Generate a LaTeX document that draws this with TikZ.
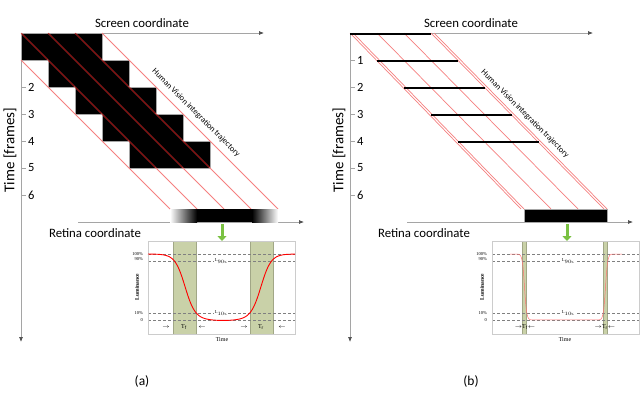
\documentclass[tikz,border=0pt]{standalone}
\usepackage{fontspec}
\setmainfont{Carlito}
\newfontfamily\gfont{Liberation Serif}
\usetikzlibrary{arrows.meta}
\definecolor{axisgray}{RGB}{165,165,165}
\definecolor{bandgreen}{RGB}{201,209,168}
\definecolor{arrowgreen}{RGB}{122,193,66}
\definecolor{trajpink}{RGB}{246,128,128}
\definecolor{trajdark}{RGB}{140,10,10}
\begin{document}
\begin{tikzpicture}[x=1pt,y=-1pt,
  declare function={sg(\t)=1/(1+exp(-max(-9,min(9,\t))));},
  axis/.style={draw=axisgray, line width=0.7pt, -{Latex[length=5pt,width=4pt,color=gray!60!black]}},
  traj/.style={draw=trajpink, line width=0.9pt},
  trajin/.style={draw=trajdark, line width=0.8pt},
  ticklab/.style={font=\fontsize{12.5}{12.5}\selectfont, anchor=west, inner sep=0pt},
  axlab/.style={font=\fontsize{12.8}{13}\selectfont, inner sep=0pt},
  timelab/.style={font=\fontsize{15}{15}\selectfont, inner sep=0pt, rotate=90},
  hv/.style={font=\fontsize{8.3}{9}\selectfont, inner sep=0pt, rotate=-45},
  glab/.style={font=\gfont\fontsize{4.5}{5}\selectfont, inner sep=0pt},
  gsmall/.style={font=\gfont\fontsize{6}{6}\selectfont, inner sep=0pt},
  dline/.style={draw=gray, densely dashed, line width=0.4pt},
  band/.style={fill=bandgreen, draw=bandgreen!80!black, line width=0.3pt},
  gbox/.style={draw=gray!40, line width=0.7pt},
  greenarrow/.style={draw=arrowgreen, line width=3pt, -{Triangle[length=5pt,width=9pt]}},
]
\useasboundingbox (0,0) rectangle (640,402);
\fill[white] (0,0) rectangle (640,402);

% ---------- common parts of both panels ----------
\foreach \p/\dx in {a/0,b/329}{
\begin{scope}[xshift=\dx]
  \coordinate (o-\p) at (21,33);
  \coordinate (sx-\p) at (264,33);
  \coordinate (ty-\p) at (21,342);
  \draw[axis] (o-\p) -- (sx-\p);
  \draw[axis] (o-\p) -- (ty-\p);
  \node[axlab] (scr-\p) at (142,23) {Screen coordinate};
  \node[timelab] (time-\p) at (10,150) {Time [frames]};
  \coordinate (rs-\p) at (78,222);
  \coordinate (re-\p) at (304,222);
  \draw[axis] (rs-\p) -- (re-\p);
  \node[axlab] (ret-\p) at (95,233) {Retina coordinate};
  \node[axlab, font=\fontsize{13.5}{14}\selectfont] (cap-\p) at (142,381) {(\p)};
  \foreach \i in {2,...,6}{
    \draw[axisgray, line width=0.7pt] (21,{33+27*\i}) -- (26,{33+27*\i});
    \node[ticklab] (t\i-\p) at (28,{33+27*\i}) {\i};
  }
\end{scope}
}

% ---------- panel (a) ----------
\filldraw[fill=black, draw=gray!70, line width=0.5pt]
  (21,33) -- (102,33) -- (102,60) -- (129,60) -- (129,87) -- (156,87) -- (156,114)
  -- (183,114) -- (183,141) -- (210,141) -- (210,168) -- (129,168) -- (129,141)
  -- (102,141) -- (102,114) -- (75,114) -- (75,87) -- (48,87) -- (48,60) -- (21,60) -- cycle;
\foreach \sx/\sy/\ex in {21/60/170, 21/33/197, 48/33/224, 75/33/251, 102/33/278}{
  \draw[traj] (\sx,\sy) -- (\ex,209);
}
\begin{scope}
  \clip (21.3,33.3) -- (101.7,33.3) -- (101.7,60.3) -- (128.7,60.3) -- (128.7,87.3) -- (155.7,87.3) -- (155.7,114.3)
  -- (182.7,114.3) -- (182.7,141.3) -- (209.7,141.3) -- (209.7,167.7) -- (129.3,167.7) -- (129.3,140.7)
  -- (102.3,140.7) -- (102.3,113.7) -- (75.3,113.7) -- (75.3,86.7) -- (48.3,86.7) -- (48.3,59.7) -- (21.3,59.7) -- cycle;
  \foreach \sx/\sy/\ex in {21/60/170, 21/33/197, 48/33/224, 75/33/251, 102/33/278}{
    \draw[trajin] (\sx,\sy) -- (\ex,209);
  }
\end{scope}
\node[hv] (hv-a) at (196,113) {Human Vision integration trajectory};
\shade[left color=white, right color=black] (170,209) rectangle (197,222);
\fill[black] (196.5,209) rectangle (252.5,222);
\shade[left color=black, right color=white] (252,209) rectangle (278,222);
\coordinate (ga-s) at (222,224);
\coordinate (ga-e) at (222,241);
\draw[greenarrow] (ga-s) -- (ga-e);

% graph (a)
\fill[white] (148,241) rectangle (295,334);
\filldraw[band] (173,241) rectangle (196,334);
\filldraw[band] (250,241) rectangle (273,334);
\foreach \yy in {254,261,313,320}{ \draw[dline] (148,\yy) -- (295,\yy); }
\draw[gbox] (148,241) rectangle (295,334);
\draw[red, line width=0.9pt] plot[domain=148:295, samples=160]
  (\x, {254+64*(sg((\x-185)/5)-sg((\x-261)/5))+2.5*exp(-((\x-223)/30)^2)});
\node[glab, fill=white, inner xsep=1pt] (l90-a) at (221,261) {L$_{90\%}$};
\node[glab, fill=white, inner xsep=1pt] (l10-a) at (221,313) {L$_{10\%}$};
\node[glab, anchor=east] (p100-a) at (143,254) {100\%};
\node[glab, anchor=east] (p90-a) at (143,259) {90\%};
\node[glab, anchor=east] (p10-a) at (143,313) {10\%};
\node[glab, anchor=east] (p0-a) at (143,320) {0};
\node[gsmall, rotate=90, font=\gfont\bfseries\fontsize{5.5}{6}\selectfont] (lum-a) at (137,287) {Luminance};
\node[gsmall] (time-ga) at (222,340) {Time};
\node[gsmall] (tf-a) at (184,327) {T$_{\mathrm f}$};
\node[gsmall] (tfl-a) at (166,327) {$\rightarrow$};
\node[gsmall] (tfr-a) at (202,327) {$\leftarrow$};
\node[gsmall] (tr-a) at (261,327) {T$_{\mathrm r}$};
\node[gsmall] (trl-a) at (244,327) {$\rightarrow$};
\node[gsmall] (trr-a) at (282,327) {$\leftarrow$};

% ---------- panel (b) ----------
\draw[axisgray, line width=0.7pt] (350,60) -- (355,60);
\node[ticklab] (t1-b) at (357,60) {1};
\foreach \sx/\ex in {350/521, 353/524, 377/551, 404/578, 431/604, 434/607}{
  \draw[traj, line width=0.7pt] (\sx,33) -- (\ex,209);
}
\foreach \i in {0,...,4}{
  \draw[black, line width=2.6pt] ({350+27*\i},{34+27*\i}) -- ({431+27*\i},{34+27*\i});
}
\node[hv] (hv-b) at (525,114) {Human Vision integration trajectory};
\filldraw[fill=black, draw=gray!70, line width=0.5pt] (524,209) rectangle (607,222);
\coordinate (gb-s) at (567,224);
\coordinate (gb-e) at (567,241);
\draw[greenarrow] (gb-s) -- (gb-e);

% graph (b)
\fill[white] (492,241) rectangle (639,334);
\filldraw[band] (522.5,241) rectangle (526.5,334);
\filldraw[band] (603.5,241) rectangle (607.5,334);
\foreach \yy in {254,261,313,320}{ \draw[dline] (492,\yy) -- (639,\yy); }
\draw[gbox] (492,241) rectangle (639.5,334);
\draw[red!55, line width=0.5pt] plot[domain=510:622, samples=240]
  (\x, {254+66*(sg((\x-524.5)/1.1)-sg((\x-605.5)/1.1))});
\node[glab, fill=white, inner xsep=1pt] (l90-b) at (568,261) {L$_{90\%}$};
\node[glab, fill=white, inner xsep=1pt] (l10-b) at (568,313) {L$_{10\%}$};
\node[glab, anchor=east] (p100-b) at (487,254) {100\%};
\node[glab, anchor=east] (p90-b) at (487,259) {90\%};
\node[glab, anchor=east] (p10-b) at (487,313) {10\%};
\node[glab, anchor=east] (p0-b) at (487,320) {0};
\node[gsmall, rotate=90, font=\gfont\bfseries\fontsize{5.5}{6}\selectfont] (lum-b) at (482,287) {Luminance};
\node[gsmall] (time-gb) at (565,340) {Time};
\node[gsmall] (tf-b) at (525,327) {$\rightarrow$T$_{\mathrm f}$$\leftarrow$};
\node[gsmall] (tr-b) at (605,327) {$\rightarrow$T$_{\mathrm r}$$\leftarrow$};
\end{tikzpicture}
\end{document}
